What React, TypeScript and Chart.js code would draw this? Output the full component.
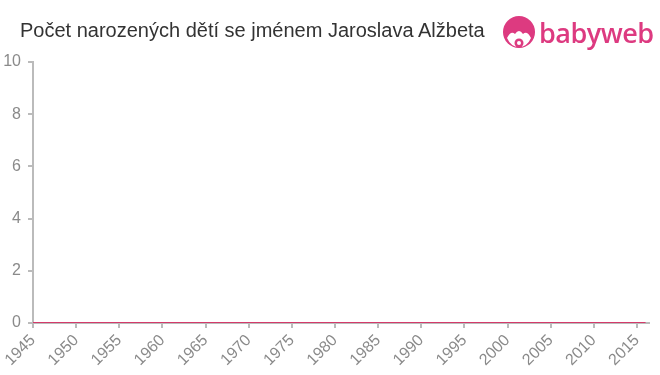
import React, { useEffect, useRef } from "react";
import { Chart, registerables } from "chart.js";

Chart.register(...registerables);

const title = "Počet narozených dětí se jménem Jaroslava Alžbeta";
const years = [1945, 1946, 1947, 1948, 1949, 1950, 1951, 1952, 1953, 1954, 1955, 1956, 1957, 1958, 1959, 1960, 1961, 1962, 1963, 1964, 1965, 1966, 1967, 1968, 1969, 1970, 1971, 1972, 1973, 1974, 1975, 1976, 1977, 1978, 1979, 1980, 1981, 1982, 1983, 1984, 1985, 1986, 1987, 1988, 1989, 1990, 1991, 1992, 1993, 1994, 1995, 1996, 1997, 1998, 1999, 2000, 2001, 2002, 2003, 2004, 2005, 2006, 2007, 2008, 2009, 2010, 2011, 2012, 2013, 2014, 2015, 2016];
const births = [0, 0, 0, 0, 0, 0, 0, 0, 0, 0, 0, 0, 0, 0, 0, 0, 0, 0, 0, 0, 0, 0, 0, 0, 0, 0, 0, 0, 0, 0, 0, 0, 0, 0, 0, 0, 0, 0, 0, 0, 0, 0, 0, 0, 0, 0, 0, 0, 0, 0, 0, 0, 0, 0, 0, 0, 0, 0, 0, 0, 0, 0, 0, 0, 0, 0, 0, 0, 0, 0, 0, 0];
const xTicks = [1945, 1950, 1955, 1960, 1965, 1970, 1975, 1980, 1985, 1990, 1995, 2000, 2005, 2010, 2015];
const yTicks = [0, 2, 4, 6, 8, 10];

const FONT = "Arial, 'Liberation Sans', sans-serif";

export default function App() {
  const ref = useRef<HTMLCanvasElement>(null);
  useEffect(() => {
    const chart = new Chart(ref.current!, {
      type: "line",
      data: {
        datasets: [
          {
            data: years.map((y, i) => ({ x: y, y: births[i] })),
            borderColor: "#d43a6a",
            borderWidth: 2,
            pointRadius: 0,
            tension: 0,
          },
        ],
      },
      options: {
        animation: false,
        responsive: false,
        layout: { padding: { top: 62, right: 11, left: 0, bottom: 0 } },
        plugins: { legend: { display: false }, tooltip: { enabled: false }, title: { display: false } },
        scales: {
          x: {
            type: "linear",
            min: 1945,
            max: 2016.4,
            afterBuildTicks: (s: any) => {
              s.ticks = xTicks.map((v) => ({ value: v }));
            },
            afterFit: (s: any) => {
              s.height = 52;
            },
            grid: { drawOnChartArea: false, tickLength: 5, color: "#bbbbbb", lineWidth: 2 },
            border: { color: "#bbbbbb", width: 2 },
            ticks: {
              color: "#8a8a8a",
              font: { family: FONT, size: 16 },
              maxRotation: 45,
              minRotation: 45,
              autoSkip: false,
              padding: 3,
              callback: (v: any) => String(v),
            },
          },
          y: {
            min: 0,
            max: 10,
            afterBuildTicks: (s: any) => {
              s.ticks = yTicks.map((v) => ({ value: v }));
            },
            afterFit: (s: any) => {
              s.width = 33;
            },
            grid: { drawOnChartArea: false, tickLength: 5, color: "#bbbbbb", lineWidth: 2 },
            border: { color: "#bbbbbb", width: 2 },
            ticks: {
              color: "#8a8a8a",
              font: { family: FONT, size: 16 },
              padding: 7,
            },
          },
        },
      },
    });
    return () => chart.destroy();
  }, []);

  return (
    <div style={{ position: "fixed", left: 0, top: 0, width: 660, height: 375, background: "#fff" }}>
      <canvas ref={ref} width={660} height={375} style={{ position: "absolute", left: 0, top: 0 }} />
      <div
        style={{
          position: "absolute",
          left: 20,
          top: 19,
          fontFamily: FONT,
          fontSize: 20,
          color: "#333",
          whiteSpace: "nowrap",
        }}
      >
        {title}
      </div>
      <div style={{ position: "absolute", left: 502, top: 16, display: "flex", alignItems: "center" }}>
        <svg width="34" height="34" viewBox="0 0 34 34">
          <circle cx="17" cy="16" r="16" fill="#dd3a80" />
          <path d="M5 22 Q9 14 13 18 Q17 12 21 18 Q25 14 29 22 Q25 31 17 31 Q9 31 5 22 Z" fill="#fff" />
          <circle cx="17" cy="27" r="4.5" fill="#dd3a80" />
          <circle cx="17" cy="27" r="2" fill="#fff" />
        </svg>
        <span
          style={{
            fontFamily: "'Open Sans', Lato, sans-serif",
            fontWeight: 600,
            fontSize: 27,
            color: "#dd3a80",
            marginLeft: 3,
            lineHeight: "30px",
            letterSpacing: -0.5,
          }}
        >
          babyweb
        </span>
      </div>
    </div>
  );
}
